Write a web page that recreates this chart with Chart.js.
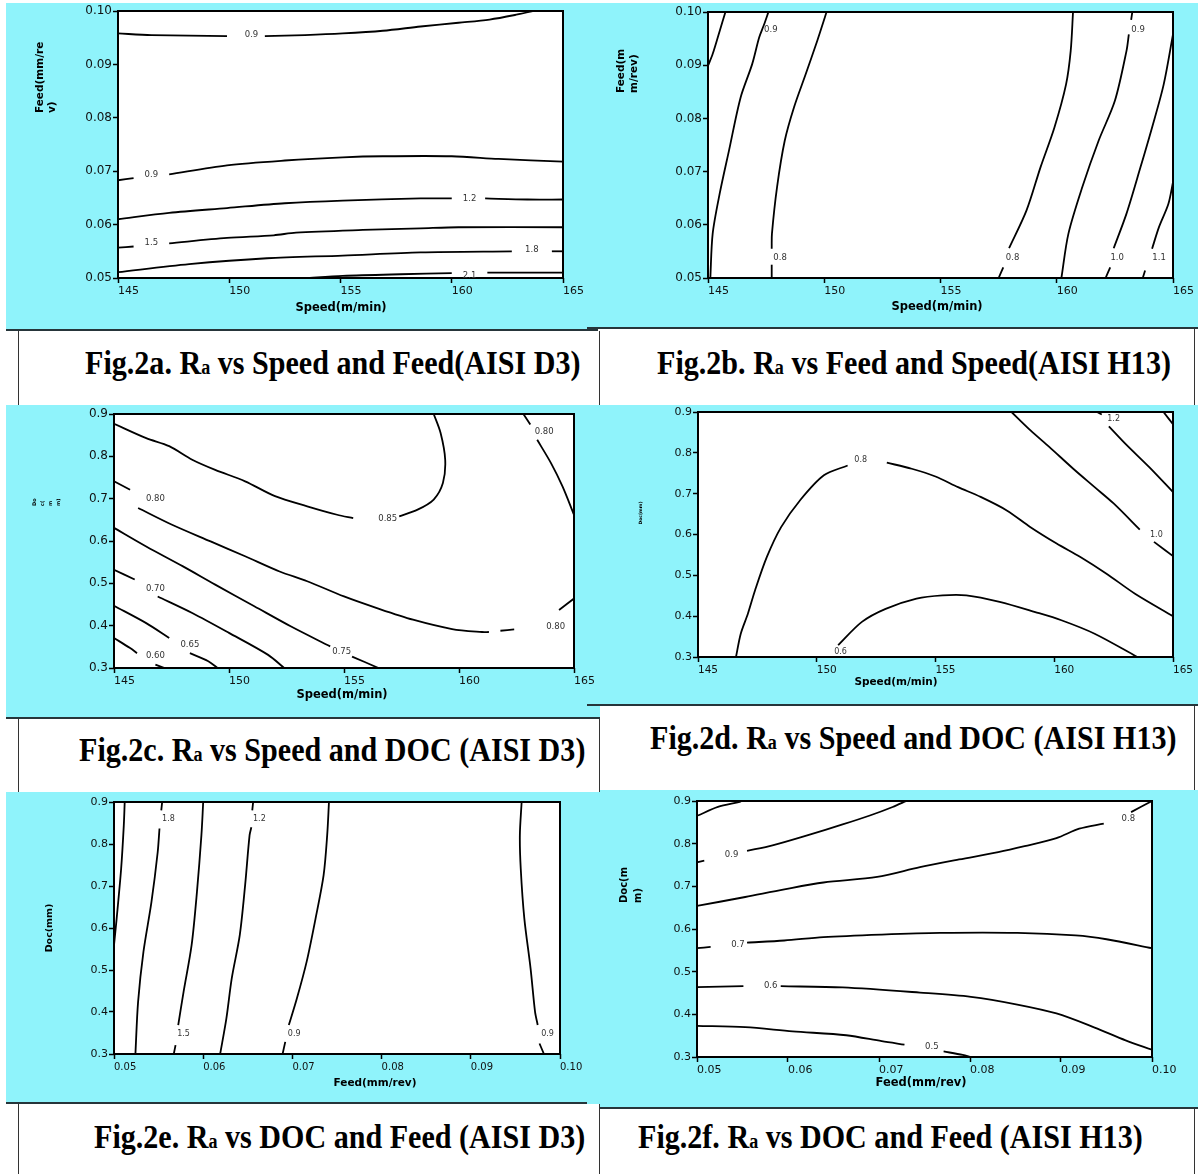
<!DOCTYPE html>
<html>
<head>
<meta charset="utf-8">
<script src="https://cdn.jsdelivr.net/npm/chart.js@4.4.1/dist/chart.umd.min.js"></script>
<style>
body { margin: 0; background: #fff; width: 1198px; height: 1174px; position: relative; overflow: hidden; }
.sky { position: absolute; background: #8ff3fb; border-bottom: 2px solid #26353a; box-sizing: border-box; }
.cap { position: absolute; box-sizing: border-box; background: #fff; }
.cap.l { border-left: 1px solid #333; border-right: 1px solid #333; }
.cap.r { border-right: 1px solid #333; }
.txt { position: absolute; white-space: nowrap; font: bold 34px "Liberation Serif", "Times New Roman", serif; line-height: 34px; color: #000; transform: scaleX(0.885); transform-origin: 0 50%; }
.txt .sub { font-size: 60%; }
canvas { position: absolute; }
</style>
</head>
<body>
<div class="sky" style="left:6px;top:3px;width:592px;height:328px"></div>
<div class="sky" style="left:587px;top:3px;width:611px;height:326px"></div>
<div class="sky" style="left:6px;top:405px;width:606px;height:314px"></div>
<div class="sky" style="left:587px;top:405px;width:611px;height:301px"></div>
<div class="sky" style="left:6px;top:792px;width:581px;height:312px"></div>
<div class="sky" style="left:587px;top:790px;width:611px;height:319px"></div>

<div class="cap l" style="left:18px;top:331px;width:582px;height:74px"></div>
<div class="cap r" style="left:600px;top:329px;width:595px;height:76px"></div>
<div class="cap l" style="left:18px;top:719px;width:582px;height:73px"></div>
<div class="cap r" style="left:600px;top:706px;width:595px;height:84px"></div>
<div class="cap l" style="left:18px;top:1104px;width:582px;height:70px"></div>
<div class="cap r" style="left:600px;top:1109px;width:595px;height:65px"></div>

<div class="txt" style="left:85px;top:346px">Fig.2a. R<span class="sub">a</span> vs Speed and Feed(AISI D3)</div>
<div class="txt" style="left:657px;top:346px">Fig.2b. R<span class="sub">a</span> vs Feed and Speed(AISI H13)</div>
<div class="txt" style="left:79px;top:733px">Fig.2c. R<span class="sub">a</span> vs Speed and DOC (AISI D3)</div>
<div class="txt" style="left:650px;top:721px">Fig.2d. R<span class="sub">a</span> vs Speed and DOC (AISI H13)</div>
<div class="txt" style="left:94px;top:1120px">Fig.2e. R<span class="sub">a</span> vs DOC and Feed (AISI D3)</div>
<div class="txt" style="left:638px;top:1120px">Fig.2f. R<span class="sub">a</span> vs DOC and Feed (AISI H13)</div>

<script>
// tick labels
const speedLabels = ['145', '150', '155', '160', '165'];
const feedLabels = ['0.05', '0.06', '0.07', '0.08', '0.09', '0.10'];
const docLabels = ['0.3', '0.4', '0.5', '0.6', '0.7', '0.8', '0.9'];

// contour segments, [x, y] in axis units
const fig2aLines = [
    [[145, 0.0958], [146.5, 0.0955], [149.9, 0.0953]],
    [[151.6, 0.0953], [153.4, 0.0955], [155.1, 0.0958], [156.9, 0.0963], [158.6, 0.0971], [160.3, 0.0978], [161.7, 0.0984], [162.9, 0.0993], [163.9, 0.1002]],
    [[145, 0.0683], [145.7, 0.0687]],
    [[147.3, 0.0694], [149.9, 0.0711], [152.5, 0.072], [155.1, 0.0726], [156.9, 0.0728], [160, 0.0728], [162.1, 0.0723], [165, 0.0718]],
    [[145, 0.061], [147.3, 0.0622], [149.9, 0.0631], [152.5, 0.064], [155.1, 0.0645], [158.6, 0.0649], [160, 0.0649]],
    [[161.5, 0.0649], [163.4, 0.0647], [165, 0.0647]],
    [[145, 0.0557], [145.7, 0.0559]],
    [[147.3, 0.0565], [149.9, 0.0575], [152, 0.058], [153, 0.0585], [156, 0.059], [158.6, 0.0593], [160.3, 0.0595], [165, 0.0595]],
    [[145, 0.0511], [148.2, 0.0526], [151.7, 0.0537], [155.1, 0.0542], [158.6, 0.0548], [162.7, 0.055]],
    [[164.5, 0.055], [165, 0.055]],
    [[153.4, 0.05], [155.1, 0.0504], [157.7, 0.0507], [160, 0.0509]],
    [[161.6, 0.051], [165, 0.051]]
];
const fig2aMarks = [['0.9', 151.0, 0.0955], ['0.9', 146.5, 0.0694], ['1.2', 160.8, 0.0649], ['1.5', 146.5, 0.0565], ['1.8', 163.6, 0.0553], ['2.1', 160.8, 0.0504]];

const fig2bLines = [
    [[145, 0.0899], [145.2, 0.0921], [145.5, 0.0964], [145.75, 0.1]],
    [[145.1, 0.05], [145.2, 0.0583], [145.5, 0.0658], [145.9, 0.0739], [146.4, 0.0839], [146.9, 0.0902], [147.2, 0.0952], [147.4, 0.0975], [147.6, 0.1]],
    [[147.74, 0.05], [147.74, 0.0525]],
    [[147.74, 0.0555], [147.75, 0.0583], [147.97, 0.0671], [148.3, 0.0758], [148.7, 0.0821], [149.2, 0.0883], [149.7, 0.0946], [150.1, 0.1]],
    [[157.5, 0.05], [157.7, 0.052]],
    [[157.95, 0.0556], [158.7, 0.0627], [159.3, 0.0708], [159.9, 0.0783], [160.4, 0.0864], [160.6, 0.0927], [160.7, 0.1]],
    [[160.2, 0.05], [160.5, 0.0583], [161.1, 0.0671], [161.8, 0.0758], [162.5, 0.0833], [163.0, 0.0927], [163.1, 0.0958]],
    [[163.2, 0.0985], [163.25, 0.1]],
    [[162.1, 0.05], [162.3, 0.052]],
    [[162.45, 0.0556], [163, 0.0621], [163.6, 0.0708], [164.1, 0.0783], [164.6, 0.0864], [165, 0.0958]],
    [[163.7, 0.05], [163.8, 0.0514]],
    [[164.1, 0.0555], [164.4, 0.0596], [164.8, 0.0639], [165, 0.068]]
];
const fig2bMarks = [['0.9', 147.7, 0.0966], ['0.8', 148.1, 0.0538], ['0.8', 158.1, 0.0538], ['0.9', 163.5, 0.0966], ['1.0', 162.6, 0.0538], ['1.1', 164.4, 0.0538]];

const fig2cLines = [
    [[158.9, 0.9], [159.2, 0.855], [159.4, 0.792], [159.3, 0.737], [158.9, 0.698], [158.2, 0.674], [157.4, 0.658]],
    [[155.4, 0.654], [154.7, 0.662], [153.4, 0.682], [152, 0.706], [150.7, 0.741], [149.4, 0.768], [148.4, 0.792], [147.4, 0.824], [146.4, 0.843], [145, 0.877]],
    [[162.8, 0.9], [163.1, 0.875]],
    [[163.4, 0.839], [164, 0.784], [164.5, 0.729], [165, 0.662]],
    [[145, 0.741], [145.7, 0.721]],
    [[146.05, 0.678], [147.5, 0.639], [149.2, 0.599], [150.7, 0.564], [152.2, 0.528], [153.4, 0.505], [155, 0.469], [156.4, 0.442], [158, 0.414], [159.7, 0.392], [161, 0.385], [161.3, 0.385]],
    [[161.8, 0.388], [162.4, 0.391]],
    [[164.35, 0.437], [165, 0.464]],
    [[145, 0.631], [146.4, 0.587], [148, 0.54], [149.4, 0.497], [151.1, 0.446], [152.7, 0.398], [154.4, 0.351]],
    [[155.35, 0.327], [156.5, 0.3]],
    [[145, 0.532], [145.9, 0.509]],
    [[146.9, 0.469], [148.4, 0.43], [150, 0.383], [151.7, 0.331], [152.4, 0.3]],
    [[145, 0.447], [146.4, 0.406], [147.4, 0.371]],
    [[148.3, 0.335], [149.1, 0.316], [149.5, 0.3]],
    [[145, 0.371], [145.7, 0.347], [146, 0.335]],
    [[146.8, 0.308], [147.2, 0.3]]
];
const fig2cMarks = [['0.85', 156.9, 0.652], ['0.80', 163.7, 0.859], ['0.80', 146.8, 0.699], ['0.80', 164.2, 0.398], ['0.75', 154.9, 0.339], ['0.70', 146.8, 0.488], ['0.65', 148.3, 0.354], ['0.60', 146.8, 0.33]];

const fig2dLines = [
    [[146.6, 0.3], [146.8, 0.357], [147.1, 0.406], [147.4, 0.463], [147.9, 0.545], [148.5, 0.618], [149.3, 0.684], [150.3, 0.745], [151.3, 0.769]],
    [[152.95, 0.776], [154, 0.761], [155, 0.742], [155.95, 0.716], [156.9, 0.692], [158, 0.659], [159, 0.618], [160.1, 0.578], [161.1, 0.545], [162.2, 0.504], [163.4, 0.455], [165, 0.4]],
    [[150.9, 0.329], [151.9, 0.386], [152.9, 0.418], [154.2, 0.443], [155.3, 0.451], [156.3, 0.451], [157.7, 0.435], [159.2, 0.41], [160.3, 0.39], [161.7, 0.357], [163.5, 0.3]],
    [[158.2, 0.9], [159, 0.855], [159.8, 0.814], [160.8, 0.761], [161.7, 0.716], [162.5, 0.676], [163.6, 0.612]],
    [[164.2, 0.582], [165, 0.547]],
    [[161.8, 0.9], [162, 0.894]],
    [[162.3, 0.865], [163, 0.822], [164, 0.765], [165, 0.704]],
    [[164.6, 0.9], [165, 0.87]]
];
const fig2dMarks = [['0.8', 151.85, 0.782], ['0.6', 151.0, 0.312], ['1.0', 164.3, 0.598], ['1.2', 162.5, 0.882]];

const fig2eLines = [
    [[0.05, 0.559], [0.0503, 0.623], [0.0508, 0.741], [0.0511, 0.845], [0.0512, 0.9]],
    [[0.0524, 0.3], [0.0527, 0.424], [0.0533, 0.543], [0.0542, 0.662], [0.0549, 0.781], [0.0551, 0.837]],
    [[0.0553, 0.88], [0.0554, 0.9]],
    [[0.0567, 0.3], [0.0569, 0.321]],
    [[0.0572, 0.369], [0.0578, 0.448], [0.0587, 0.559], [0.0593, 0.686], [0.0598, 0.821], [0.06, 0.9]],
    [[0.0619, 0.3], [0.0626, 0.385], [0.0632, 0.48], [0.0641, 0.583], [0.0647, 0.702], [0.0652, 0.821], [0.0654, 0.84]],
    [[0.0655, 0.88], [0.0656, 0.9]],
    [[0.0689, 0.3], [0.0692, 0.329]],
    [[0.0696, 0.369], [0.0705, 0.432], [0.0716, 0.52], [0.0726, 0.623], [0.0735, 0.726], [0.0739, 0.821], [0.0741, 0.9]],
    [[0.0957, 0.9], [0.0955, 0.821], [0.0956, 0.741], [0.096, 0.623], [0.0967, 0.504], [0.0972, 0.401], [0.0975, 0.369]],
    [[0.0977, 0.325], [0.0982, 0.3]]
];
const fig2eMarks = [['1.8', 0.0561, 0.86], ['1.5', 0.0578, 0.347], ['1.2', 0.0663, 0.86], ['0.9', 0.0702, 0.347], ['0.9', 0.0986, 0.347]];

const fig2fLines = [
    [[0.0501, 0.866], [0.0523, 0.886], [0.0547, 0.898], [0.0549, 0.9]],
    [[0.0501, 0.757], [0.0508, 0.76]],
    [[0.0555, 0.783], [0.0583, 0.796], [0.0622, 0.82], [0.066, 0.845], [0.069, 0.866], [0.0715, 0.886], [0.073, 0.9]],
    [[0.05, 0.654], [0.0553, 0.675], [0.0596, 0.693], [0.0639, 0.709], [0.0698, 0.722], [0.0745, 0.745], [0.0788, 0.763], [0.0831, 0.78], [0.086, 0.794], [0.0895, 0.813], [0.092, 0.835], [0.0947, 0.847]],
    [[0.0977, 0.874], [0.1, 0.9]],
    [[0.05, 0.555], [0.0515, 0.558]],
    [[0.0555, 0.568], [0.0596, 0.573], [0.0639, 0.581], [0.0703, 0.587], [0.0767, 0.591], [0.0852, 0.591], [0.0916, 0.585], [0.095, 0.576], [0.1, 0.555]],
    [[0.05, 0.464], [0.0551, 0.466]],
    [[0.0592, 0.466], [0.066, 0.463], [0.0745, 0.451], [0.0801, 0.441], [0.0852, 0.423], [0.0895, 0.402], [0.0937, 0.369], [0.0971, 0.339], [0.1, 0.317]],
    [[0.05, 0.373], [0.0553, 0.37], [0.0605, 0.36], [0.0664, 0.351], [0.0703, 0.337], [0.0728, 0.329]],
    [[0.0771, 0.313], [0.0792, 0.305], [0.0801, 0.3]]
];
const fig2fMarks = [['0.9', 0.0538, 0.773], ['0.8', 0.0974, 0.859], ['0.7', 0.0545, 0.564], ['0.6', 0.0581, 0.466], ['0.5', 0.0758, 0.325]];

// page layout: box = canvas [left, top, right, bottom], area = plot frame
const panels = [
    { box: [6, 3, 598, 330], area: [118, 11, 563, 278], xl: speedLabels, yl: feedLabels, lines: fig2aLines, marks: fig2aMarks,
      fx: 11, fy: 12, mark: 8.5,
      xt: ['Speed(m/min)', 341, 308, 11.5], yt: [['Feed(mm/re', 'v)'], 40, 113, 10.5, 12, 'left'] },
    { box: [587, 3, 1198, 328], area: [708, 12, 1173, 278], xl: speedLabels, yl: feedLabels, lines: fig2bLines, marks: fig2bMarks,
      fx: 11, fy: 12, mark: 8.5,
      xt: ['Speed(m/min)', 937, 307, 11.5], yt: [['Feed(m', 'm/rev)'], 621, 93, 10.5, 13, 'left'] },
    { box: [6, 405, 612, 718], area: [114, 414, 574, 668], xl: speedLabels, yl: docLabels, lines: fig2cLines, marks: fig2cMarks,
      fx: 11, fy: 12, mark: 8.5,
      xt: ['Speed(m/min)', 342, 695, 11.5], yt: [['Do', 'c(', 'm', 'm)'], 35, 506, 5, 8, 'left'] },
    { box: [587, 405, 1198, 705], area: [698, 412, 1173, 657], xl: speedLabels, yl: docLabels, lines: fig2dLines, marks: fig2dMarks,
      fx: 10.5, fy: 11, mark: 8,
      xt: ['Speed(m/min)', 896, 682, 10.5], yt: [['Doc(mm)'], 641, 513, 4.5, 6, 'center'] },
    { box: [6, 792, 587, 1103], area: [114, 802, 560, 1054], xl: feedLabels, yl: docLabels, lines: fig2eLines, marks: fig2eMarks,
      fx: 10, fy: 11, mark: 8,
      xt: ['Feed(mm/rev)', 375, 1083, 10.5], yt: [['Doc(mm)'], 50, 928, 9.5, 12, 'center'] },
    { box: [587, 790, 1198, 1108], area: [697, 801, 1152, 1057], xl: feedLabels, yl: docLabels, lines: fig2fLines, marks: fig2fMarks,
      fx: 11, fy: 11, mark: 8.5,
      xt: ['Feed(mm/rev)', 921, 1083, 11.5], yt: [['Doc(m', 'm)'], 624, 903, 10, 14, 'left'] }
];

const FONT = '"DejaVu Sans", Verdana, sans-serif';

function paperPlugin(p) {
    const ox = p.box[0], oy = p.box[1];
    return {
        id: 'paper',
        beforeDraw(chart) {
            const { ctx, chartArea: a } = chart;
            ctx.save();
            ctx.fillStyle = '#fff';
            ctx.fillRect(a.left, a.top, a.right - a.left, a.bottom - a.top);
            ctx.restore();
        },
        afterDraw(chart) {
            const { ctx, chartArea: a, scales } = chart;
            ctx.save();
            ctx.strokeStyle = '#000';
            ctx.lineWidth = 2;
            ctx.strokeRect(a.left, a.top, a.right - a.left, a.bottom - a.top);

            ctx.fillStyle = '#333';
            ctx.font = p.mark + 'px ' + FONT;
            ctx.textAlign = 'center';
            ctx.textBaseline = 'middle';
            p.marks.forEach(([t, x, y]) => {
                ctx.fillText(t, scales.x.getPixelForValue(x), scales.y.getPixelForValue(y));
            });

            ctx.fillStyle = '#000';
            ctx.font = 'bold ' + p.xt[3] + 'px ' + FONT;
            ctx.fillText(p.xt[0], p.xt[1] - ox, p.xt[2] - oy);

            const [lines, tx, ty, size, gap, align] = p.yt;
            ctx.font = 'bold ' + size + 'px ' + FONT;
            ctx.textAlign = align;
            ctx.translate(tx - ox, ty - oy);
            ctx.rotate(-Math.PI / 2);
            lines.forEach((t, i) => ctx.fillText(t, 0, i * gap));
            ctx.restore();
        }
    };
}

panels.forEach((p) => {
    const [bl, bt, br, bb] = p.box;
    const [al, at, ar, ab] = p.area;
    const canvas = document.createElement('canvas');
    canvas.width = br - bl;
    canvas.height = bb - bt;
    canvas.style.left = bl + 'px';
    canvas.style.top = bt + 'px';
    canvas.style.width = (br - bl) + 'px';
    canvas.style.height = (bb - bt) + 'px';
    document.body.appendChild(canvas);

    const xv = p.xl.map(Number);
    const yv = p.yl.map(Number);

    new Chart(canvas.getContext('2d'), {
        type: 'scatter',
        data: {
            datasets: p.lines.map((seg) => ({
                data: seg.map(([x, y]) => ({ x, y })),
                showLine: true,
                borderColor: '#000',
                borderWidth: 1.8,
                pointRadius: 0,
                tension: 0.3,
                fill: false
            }))
        },
        options: {
            responsive: false,
            animation: false,
            devicePixelRatio: 1,
            events: [],
            layout: { padding: { left: 0, top: at - bt, right: br - ar, bottom: 0 } },
            plugins: { legend: { display: false }, tooltip: { enabled: false } },
            scales: {
                x: {
                    type: 'linear',
                    min: xv[0],
                    max: xv[xv.length - 1],
                    afterBuildTicks: (s) => { s.ticks = xv.map((v) => ({ value: v })); },
                    afterFit: (s) => { s.height = bb - ab; s.paddingLeft = 0; s.paddingRight = 0; },
                    ticks: {
                        align: 'start', autoSkip: false, maxRotation: 0, padding: 2, color: '#111',
                        font: { family: FONT, size: p.fx },
                        callback: (v, i) => p.xl[i]
                    },
                    grid: { drawOnChartArea: false, drawTicks: true, tickLength: 5, tickWidth: 1.5, tickColor: '#000' },
                    border: { display: false }
                },
                y: {
                    type: 'linear',
                    min: yv[0],
                    max: yv[yv.length - 1],
                    afterBuildTicks: (s) => { s.ticks = yv.map((v) => ({ value: v })); },
                    afterFit: (s) => { s.width = al - bl; s.paddingTop = 0; s.paddingBottom = 0; },
                    ticks: {
                        autoSkip: false, padding: 1, color: '#111',
                        font: { family: FONT, size: p.fy },
                        callback: (v, i) => p.yl[i]
                    },
                    grid: { drawOnChartArea: false, drawTicks: true, tickLength: 5, tickWidth: 1.5, tickColor: '#000' },
                    border: { display: false }
                }
            }
        },
        plugins: [paperPlugin(p)]
    });
});
</script>
</body>
</html>
